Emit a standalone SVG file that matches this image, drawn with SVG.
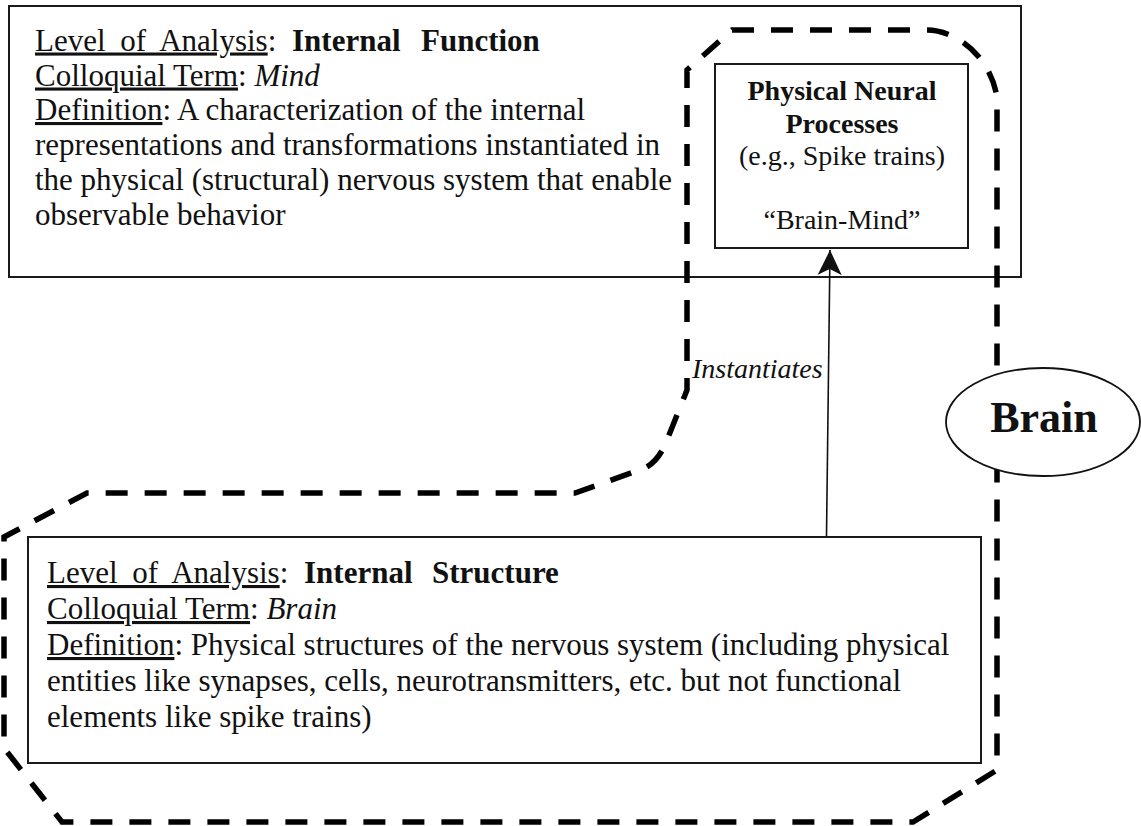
<svg xmlns="http://www.w3.org/2000/svg" width="1141" height="826" viewBox="0 0 1141 826">
<style>
.box{fill:#fff;stroke:#1a1a1a;stroke-width:2}
.t{font-family:"Liberation Serif","Times New Roman",serif;fill:#111}
.big{font-size:31px}
.mid{font-size:28px}
.u{text-decoration:underline}
.lv{word-spacing:7px}
.b{font-weight:bold}
.i{font-style:italic}
.dash{fill:none;stroke:#000;stroke-width:5.5;stroke-dasharray:22 17}
.conn{stroke:#111;stroke-width:1.6;fill:none}
</style>
<defs>
<marker id="arr" viewBox="0 0 26 26" refX="25" refY="13" markerWidth="26" markerHeight="26" markerUnits="userSpaceOnUse" orient="auto">
<path d="M25,13 L0,1 L6,13 L0,25 Z" fill="#111"/>
</marker>
</defs>

<g id="internal-function">
<rect class="box" x="9" y="6" width="1012" height="271"/>
<text class="t big" y="50.5"><tspan x="35" class="u lv">Level of Analysis</tspan><tspan>:</tspan><tspan x="292" class="b">Internal</tspan><tspan x="421" class="b">Function</tspan></text>
<text class="t big" y="85.5"><tspan x="35" class="u">Colloquial Term</tspan><tspan>: </tspan><tspan class="i">Mind</tspan></text>
<text class="t big" y="120"><tspan x="35" class="u">Definition</tspan><tspan>: A characterization of the internal</tspan></text>
<text class="t big" x="35" y="155">representations and transformations instantiated in</text>
<text class="t big" x="35" y="190">the physical (structural) nervous system that enable</text>
<text class="t big" x="35" y="225">observable behavior</text>
</g>

<g id="internal-structure">
<rect class="box" x="28" y="537" width="953" height="226"/>
<text class="t big" y="583"><tspan x="47" class="u lv">Level of Analysis</tspan><tspan>:</tspan><tspan x="304" class="b">Internal</tspan><tspan x="432" class="b">Structure</tspan></text>
<text class="t big" y="619"><tspan x="47" class="u">Colloquial Term</tspan><tspan>: </tspan><tspan class="i">Brain</tspan></text>
<text class="t big" y="655"><tspan x="47" class="u">Definition</tspan><tspan>: Physical structures of the nervous system (including physical</tspan></text>
<text class="t big" x="47" y="691">entities like synapses, cells, neurotransmitters, etc. but not functional</text>
<text class="t big" x="47" y="727">elements like spike trains)</text>
</g>

<g id="brain-region">
<path class="dash" d="M732,30 L927,30 C955,30 990,55 997,97 L997,770 L913,822 L62,822 L4,748 L4,537 L87,493 L575,493 L645,468 Q657,462 665,445 L687,390 L687,70 Z"/>
</g>

<g id="physical-neural-processes">
<rect class="box" x="715" y="64" width="253" height="184"/>
<text class="t mid b" x="842" y="100" text-anchor="middle">Physical Neural</text>
<text class="t mid b" x="842" y="133" text-anchor="middle">Processes</text>
<text class="t mid" x="842" y="165" text-anchor="middle">(e.g., Spike trains)</text>
<text class="t mid" x="842" y="229" text-anchor="middle">“Brain-Mind”</text>
</g>

<g id="connectors">
<line class="conn" x1="826.5" y1="536" x2="830" y2="250" marker-end="url(#arr)"/>
<text class="t mid i" x="692" y="378">Instantiates</text>
</g>

<g id="brain-label">
<ellipse cx="1043" cy="422" rx="97" ry="54" fill="#fff" stroke="#111" stroke-width="1.8"/>
<text class="t b" x="1044" y="432" font-size="44" text-anchor="middle">Brain</text>
</g>
</svg>
